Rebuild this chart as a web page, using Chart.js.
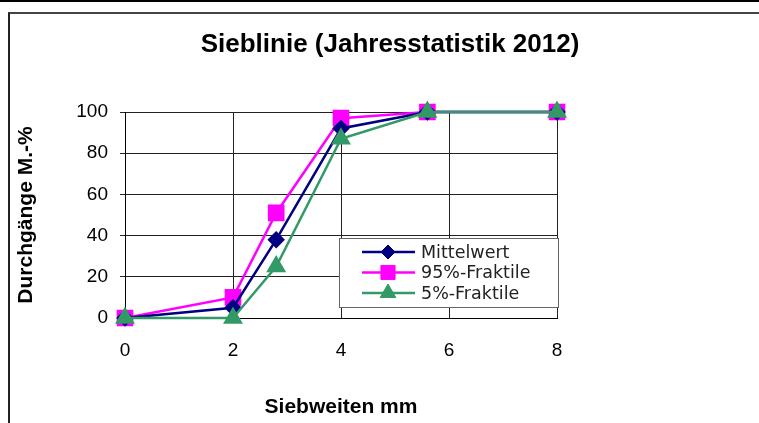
<!DOCTYPE html>
<html>
<head>
<meta charset="utf-8">
<script src="https://cdn.jsdelivr.net/npm/chart.js@4"></script>
<style>
  html, body { margin: 0; padding: 0; background: #fff; overflow: hidden; }
  #topbar { position: absolute; left: 0; top: 0; width: 759px; height: 2px; background: #000; }
  #frame { position: absolute; left: 8px; top: 12px; width: 800px; height: 500px;
           border-left: 2px solid #222; border-top: 2px solid #444; }
  #wrap { position: absolute; left: 0; top: 0; width: 759px; height: 423px; }
</style>
</head>
<body>
<div id="topbar"></div>
<div id="frame"></div>
<div id="wrap"><canvas id="sieblinie" width="759" height="423"></canvas></div>
<script>
// Siebweiten in mm
const siebweiten = [0, 2, 2.8, 4, 5.6, 8];
// Durchgänge in M.-%
const mittelwert = [0, 5, 38, 92, 100, 100];
const fraktil95 = [0, 10, 51, 97, 100, 100];
const fraktil5 = [0, 0, 25, 87, 100, 100];

const xTicks = [0, 2, 4, 6, 8];
const yTicks = [0, 20, 40, 60, 80, 100];

const NAVY = '#000080';
const PINK = '#FF00FF';
const GREEN = '#339966';

Chart.defaults.font.family = "'Liberation Sans', Arial, sans-serif";
Chart.defaults.color = '#000';

function toPoints(values) {
    return siebweiten.map((x, i) => ({ x, y: values[i] }));
}

// Legende im Diagrammbereich (wie im Original)
const innerLegend = {
    id: 'innerLegend',
    afterDatasetsDraw(chart) {
        const { ctx, chartArea } = chart;
        const left = chartArea.left + 214;
        const top = chartArea.top + 126;
        const w = 219, h = 69;

        ctx.save();
        ctx.fillStyle = '#fff';
        ctx.strokeStyle = '#666';
        ctx.lineWidth = 1;
        ctx.fillRect(left, top, w, h);
        ctx.strokeRect(left + 0.5, top + 0.5, w, h);

        const items = chart.data.datasets.slice().sort((a, b) => a.legendIndex - b.legendIndex);
        items.forEach((ds, i) => {
            const y = top + 14 + i * 20.5;
            ctx.strokeStyle = ds.borderColor;
            ctx.lineWidth = 2.5;
            ctx.beginPath();
            ctx.moveTo(left + 23, y);
            ctx.lineTo(left + 76, y);
            ctx.stroke();
            ctx.fillStyle = ds.pointBackgroundColor;
            ctx.strokeStyle = ds.pointBorderColor;
            ctx.lineWidth = 1;
            Chart.helpers.drawPoint(ctx, { pointStyle: ds.pointStyle, radius: ds.pointRadius, borderWidth: 1, rotation: 0 }, left + 49, y);
            ctx.fillStyle = '#222';
            ctx.font = "17.5px 'DejaVu Sans'";
            ctx.textAlign = 'left';
            ctx.textBaseline = 'middle';
            ctx.fillText(ds.label, left + 82, y + 1);
        });
        ctx.restore();
    }
};

new Chart(document.getElementById('sieblinie'), {
    type: 'line',
    data: {
        datasets: [{
            label: 'Mittelwert',
            data: toPoints(mittelwert),
            borderColor: NAVY,
            backgroundColor: NAVY,
            pointBackgroundColor: NAVY,
            pointBorderColor: NAVY,
            pointStyle: 'rectRot',
            pointRadius: 7,
            borderWidth: 2.5,
            order: 1,
            legendIndex: 0
        }, {
            label: '95%-Fraktile',
            data: toPoints(fraktil95),
            borderColor: PINK,
            backgroundColor: PINK,
            pointBackgroundColor: PINK,
            pointBorderColor: PINK,
            pointStyle: 'rect',
            pointRadius: 10,
            borderWidth: 2.5,
            order: 2,
            legendIndex: 1
        }, {
            label: '5%-Fraktile',
            data: toPoints(fraktil5),
            borderColor: GREEN,
            backgroundColor: GREEN,
            pointBackgroundColor: GREEN,
            pointBorderColor: GREEN,
            pointStyle: 'triangle',
            pointRadius: 9,
            borderWidth: 2.5,
            order: 0,
            legendIndex: 2
        }]
    },
    options: {
        responsive: false,
        animation: false,
        clip: false,
        layout: { padding: { left: 21, right: 0, top: 0, bottom: 0 } },
        plugins: {
            legend: { display: false },
            tooltip: { enabled: false },
            title: {
                display: true,
                text: 'Sieblinie (Jahresstatistik 2012)',
                font: { size: 26, weight: 'bold' },
                color: '#000',
                padding: { top: 29.4, bottom: 51.4 }
            }
        },
        scales: {
            x: {
                type: 'linear',
                min: 0,
                max: 8,
                afterBuildTicks: s => { s.ticks = xTicks.map(v => ({ value: v })); },
                afterFit: s => { s.height = 105; },
                ticks: { font: { size: 19 }, padding: 21, color: '#000' },
                grid: { color: '#222', lineWidth: 1, drawTicks: false },
                border: { color: '#000', width: 1 },
                title: {
                    display: true,
                    text: 'Siebweiten mm',
                    font: { size: 21, weight: 'bold' },
                    color: '#000',
                    padding: { top: 0, bottom: 3 }
                }
            },
            y: {
                min: 0,
                max: 100,
                afterBuildTicks: s => { s.ticks = yTicks.map(v => ({ value: v })); },
                afterFit: s => { s.width = 104; },
                ticks: { font: { size: 19 }, padding: 12, color: '#000' },
                grid: { color: '#222', lineWidth: 1, tickLength: 5 },
                border: { color: '#000', width: 1 },
                title: {
                    display: true,
                    text: 'Durchgänge M.-%',
                    font: { size: 21, weight: 'bold', lineHeight: 0.5 },
                    color: '#000',
                    padding: { top: 0, bottom: 0 }
                }
            },
            yR: {
                position: 'right',
                min: 0,
                max: 100,
                afterFit: s => { s.width = 202; },
                ticks: { display: false },
                grid: { display: false },
                border: { display: false }
            }
        }
    },
    plugins: [innerLegend]
});
</script>
</body>
</html>
